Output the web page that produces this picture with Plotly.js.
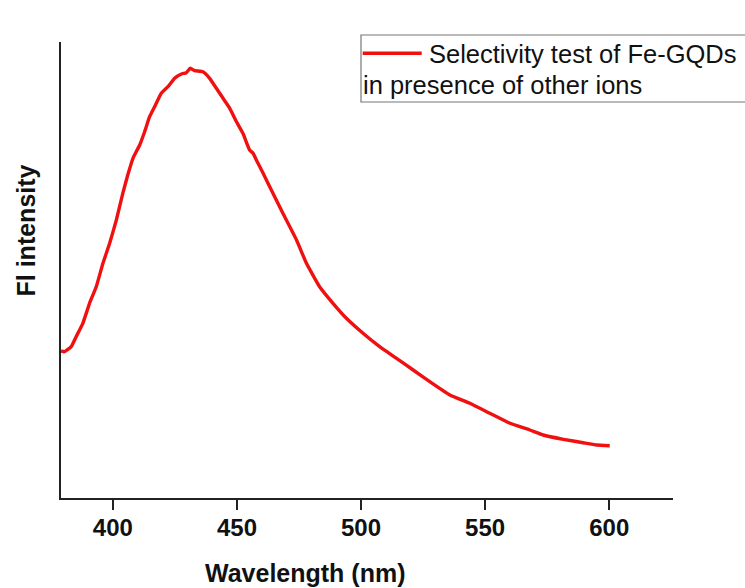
<!DOCTYPE html>
<html>
<head>
<meta charset="utf-8">
<script src="https://cdn.plot.ly/plotly-3.0.1.min.js"></script>
<style>html,body{margin:0;padding:0;background:#fff;}#chart{width:745px;height:588px;}</style>
</head>
<body>
<div id="chart"></div>
<script>
// Wavelength (nm)
const wavelength = [379.1, 380.5, 383.2, 385.2, 387.9, 390.6, 393.3, 396.0, 398.7, 401.4, 404.0, 406.0, 408.1, 410.8, 412.8, 414.8, 417.5, 419.5, 422.2, 424.9, 427.6, 429.6, 431.2, 432.9, 436.3, 439.0, 441.7, 444.4, 447.1, 449.8, 452.4, 455.1, 456.5, 457.8, 460.5, 464.5, 468.5, 474.0, 478.0, 483.3, 488.7, 494.1, 500.8, 507.5, 514.3, 521.0, 527.7, 535.8, 543.8, 551.9, 560.0, 568.0, 573.4, 581.5, 589.5, 594.9, 600.2];
// FL intensity (arbitrary units)
const intensity = [147.0, 146.3, 151.3, 161.3, 174.7, 194.7, 211.3, 234.7, 254.7, 278.0, 304.7, 323.0, 339.7, 353.0, 366.3, 381.3, 394.7, 404.7, 411.3, 419.7, 424.0, 425.3, 429.7, 427.3, 426.3, 419.7, 409.7, 399.7, 389.7, 376.3, 364.7, 348.0, 344.7, 338.0, 325.0, 304.7, 284.7, 258.0, 234.7, 211.3, 194.7, 179.7, 164.7, 151.3, 139.7, 128.0, 116.3, 103.0, 94.7, 84.7, 74.7, 68.0, 63.0, 58.7, 55.3, 53.0, 52.3];
const xTicks = [400, 450, 500, 550, 600];
const seriesName = "Selectivity test of Fe-GQDs";
const seriesName2 = "in presence of other ions";
const xTitle = "Wavelength (nm)";
const yTitle = "Fl intensity";

const FONT = "Liberation Sans, Arial, Helvetica, sans-serif";
const lineColor = "#f01010";

const trace = {
  x: wavelength, y: intensity, type: "scatter", mode: "lines",
  line: {color: lineColor, width: 3.4, shape: "spline", smoothing: 0.4},
  showlegend: false, hoverinfo: "skip"
};

const px = v => (v - 61) / 612;   // helper: pixel x -> paper
const py = v => (498 - v) / 456;  // helper: pixel y -> paper

const layout = {
  width: 745, height: 588,
  margin: {l: 61, r: 72, t: 42, b: 90},
  paper_bgcolor: "#fff", plot_bgcolor: "#fff",
  showlegend: false,
  xaxis: {
    range: [379.1, 625.7], tickvals: xTicks, ticktext: xTicks.map(String),
    ticks: "outside", ticklen: 10, tickwidth: 1.5, tickcolor: "#222",
    ticklabelstandoff: -3,
    showline: true, linecolor: "#222", linewidth: 2, showgrid: false, zeroline: false,
    tickfont: {family: FONT, size: 24, color: "#111", weight: "bold"}
  },
  yaxis: {
    range: [0, 456], showticklabels: false, ticks: "",
    showline: true, linecolor: "#222", linewidth: 2, showgrid: false, zeroline: false
  },
  shapes: [
    {type: "rect", xref: "paper", yref: "paper", x0: px(361), x1: px(746), y0: py(102), y1: py(35),
     line: {color: "#777", width: 1.2}, fillcolor: "rgba(255,255,255,0)"},
    {type: "line", xref: "paper", yref: "paper", x0: px(362.7), x1: px(421.7), y0: py(53.3), y1: py(53.3),
     line: {color: lineColor, width: 3.4}}
  ],
  annotations: [
    {text: seriesName, xref: "paper", yref: "paper", x: px(427), y: py(54), xanchor: "left", yanchor: "middle",
     showarrow: false, font: {family: FONT, size: 25.5, color: "#111"}},
    {text: seriesName2, xref: "paper", yref: "paper", x: px(361), y: py(85), xanchor: "left", yanchor: "middle",
     showarrow: false, font: {family: FONT, size: 25.5, color: "#111"}},
    {text: xTitle, xref: "paper", yref: "paper", x: px(305), y: py(573),
     xanchor: "center", yanchor: "middle", showarrow: false,
     font: {family: FONT, size: 25, color: "#111", weight: "bold"}},
    {text: yTitle, xref: "paper", yref: "paper", x: px(25.5), y: py(231),
     xanchor: "center", yanchor: "middle", textangle: -90, showarrow: false,
     font: {family: FONT, size: 25, color: "#111", weight: "bold"}}
  ]
};

Plotly.newPlot("chart", [trace], layout, {displayModeBar: false, staticPlot: true});
</script>
</body>
</html>
